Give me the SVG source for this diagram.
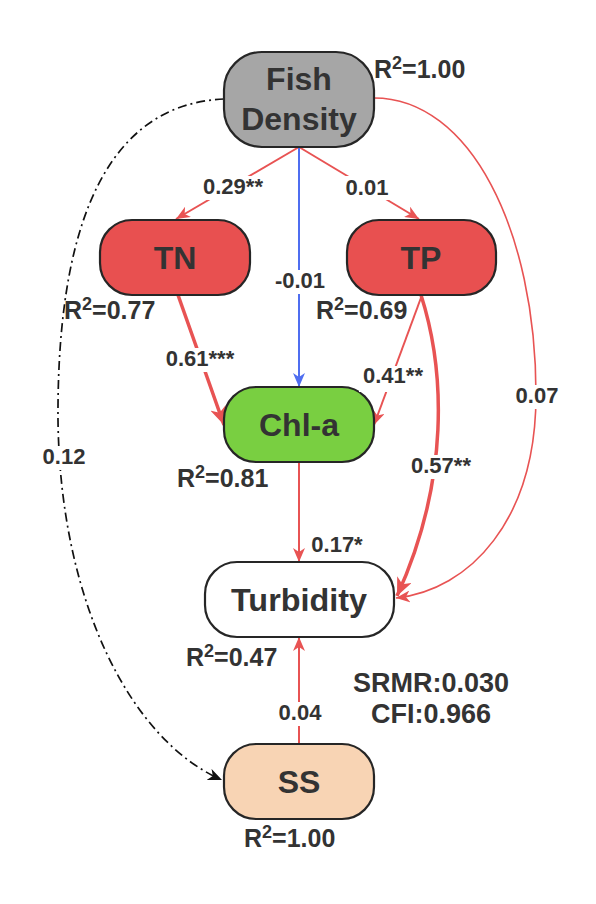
<svg xmlns="http://www.w3.org/2000/svg" width="596" height="904" viewBox="0 0 596 904">
<style>
.node{stroke:#262626;stroke-width:2.2}
.nt{font-family:"Liberation Sans",Arial,sans-serif;font-weight:bold;fill:#333333;text-anchor:middle}
.lab{font-family:"Liberation Sans",Arial,sans-serif;font-weight:bold;fill:#333333;font-size:22px}
.r2{font-family:"Liberation Sans",Arial,sans-serif;font-weight:bold;fill:#333333;font-size:25px}
.red{fill:none;stroke:#e85353;stroke-width:2}
.redthick{fill:none;stroke:#e85353;stroke-width:3.5}
.blue{fill:none;stroke:#4f6ef0;stroke-width:2}
.blk{fill:none;stroke:#111111;stroke-width:1.7;stroke-dasharray:9 4 2 4}
.bg{fill:#ffffff}
</style>
<defs>
<marker id="ar" viewBox="0 0 14 12" refX="14" refY="6" markerWidth="14" markerHeight="12" markerUnits="userSpaceOnUse" orient="auto"><path d="M0,0 L14,6 L0,12 L4,6 Z" fill="#e85353"/></marker>
<marker id="arT" viewBox="0 0 18 16" refX="18" refY="8" markerWidth="18" markerHeight="16" markerUnits="userSpaceOnUse" orient="auto"><path d="M0,0 L18,8 L0,16 L5,8 Z" fill="#e85353"/></marker>
<marker id="arB" viewBox="0 0 14 12" refX="14" refY="6" markerWidth="14" markerHeight="12" markerUnits="userSpaceOnUse" orient="auto"><path d="M0,0 L14,6 L0,12 L4,6 Z" fill="#4f6ef0"/></marker>
<marker id="arK" viewBox="0 0 14 12" refX="14" refY="6" markerWidth="14" markerHeight="12" markerUnits="userSpaceOnUse" orient="auto"><path d="M0,0 L14,6 L0,12 L4,6 Z" fill="#111111"/></marker>
</defs>
<rect width="596" height="904" fill="#ffffff"/>
<g id="connectors">
<path class="red" d="M299,147 L176,219" marker-end="url(#ar)"/>
<path class="red" d="M299,147 L419,219" marker-end="url(#ar)"/>
<path class="blue" d="M299,147 L299,387" marker-end="url(#arB)"/>
<path class="redthick" d="M178,295 L224,425" marker-end="url(#arT)"/>
<path class="red" d="M422,295 L374,425" marker-end="url(#ar)"/>
<path class="redthick" d="M421,295 C445,370 450,480 397,596" marker-end="url(#arT)"/>
<path class="red" style="stroke-width:1.6" d="M374,98 C470,98 536,230 536,395 C536,520 470,590 396,598" marker-end="url(#ar)"/>
<path class="red" d="M299,462 L299,562" marker-end="url(#ar)"/>
<path class="red" d="M299,744 L299,637" marker-end="url(#ar)"/>
<path class="blk" d="M224,99 C90,105 57,260 58,420 C60,600 130,740 222,780" marker-end="url(#arK)"/>
</g>
<g id="fish-density">
<rect class="node" x="224" y="52" width="150" height="95" rx="38" fill="#a6a6a6"/>
<text class="nt" x="299" y="90" font-size="32">Fish</text>
<text class="nt" x="299" y="130" font-size="32">Density</text>
<text class="r2" x="374" y="78">R<tspan font-size="18" dy="-9">2</tspan><tspan dy="9">=1.00</tspan></text>
</g>
<g id="tn">
<rect class="node" x="100" y="220" width="150" height="75" rx="32" fill="#e85050"/>
<text class="nt" x="175" y="269" font-size="32">TN</text>
<text class="r2" x="64" y="319">R<tspan font-size="18" dy="-9">2</tspan><tspan dy="9">=0.77</tspan></text>
</g>
<g id="tp">
<rect class="node" x="347" y="220" width="149" height="75" rx="32" fill="#e85050"/>
<text class="nt" x="421" y="269" font-size="32">TP</text>
<text class="r2" x="316" y="319">R<tspan font-size="18" dy="-9">2</tspan><tspan dy="9">=0.69</tspan></text>
</g>
<g id="chl-a">
<rect class="node" x="224" y="387" width="150" height="75" rx="32" fill="#79cf41"/>
<text class="nt" x="299" y="436" font-size="32">Chl-a</text>
<text class="r2" x="177" y="487">R<tspan font-size="18" dy="-9">2</tspan><tspan dy="9">=0.81</tspan></text>
</g>
<g id="turbidity">
<rect class="node" x="205" y="562" width="189" height="75" rx="32" fill="#ffffff"/>
<text class="nt" x="299" y="611" font-size="31" textLength="136" lengthAdjust="spacingAndGlyphs">Turbidity</text>
<text class="r2" x="186" y="666">R<tspan font-size="18" dy="-9">2</tspan><tspan dy="9">=0.47</tspan></text>
</g>
<g id="ss">
<rect class="node" x="224" y="744" width="150" height="75" rx="32" fill="#f8d4b4"/>
<text class="nt" x="299" y="793" font-size="32">SS</text>
<text class="r2" x="244" y="847">R<tspan font-size="18" dy="-9">2</tspan><tspan dy="9">=1.00</tspan></text>
</g>
<g id="edge-labels">
<rect class="bg" x="199" y="176" width="68" height="24"/>
<text class="lab" x="233" y="194" text-anchor="middle">0.29**</text>
<rect class="bg" x="343" y="176" width="48" height="24"/>
<text class="lab" x="367" y="195" text-anchor="middle">0.01</text>
<rect class="bg" x="272" y="270" width="56" height="24"/>
<text class="lab" x="300" y="288" text-anchor="middle">-0.01</text>
<rect class="bg" x="161" y="348" width="78" height="24"/>
<text class="lab" x="200" y="366" text-anchor="middle">0.61***</text>
<rect class="bg" x="359" y="366" width="68" height="26"/>
<text class="lab" x="393" y="383" text-anchor="middle">0.41**</text>
<rect class="bg" x="406" y="455" width="70" height="24"/>
<text class="lab" x="441" y="473" text-anchor="middle">0.57**</text>
<rect class="bg" x="512" y="385" width="50" height="24"/>
<text class="lab" x="537" y="403" text-anchor="middle">0.07</text>
<rect class="bg" x="40" y="446" width="50" height="24"/>
<text class="lab" x="64" y="464" text-anchor="middle">0.12</text>
<text class="lab" x="337" y="552" text-anchor="middle">0.17*</text>
<rect class="bg" x="276" y="702" width="50" height="24"/>
<text class="lab" x="300" y="720" text-anchor="middle">0.04</text>
</g>
<g id="fit-stats">
<text class="lab" x="431" y="692" text-anchor="middle" style="font-size:27px">SRMR:0.030</text>
<text class="lab" x="431" y="723" text-anchor="middle" style="font-size:27px">CFI:0.966</text>
</g>
</svg>
